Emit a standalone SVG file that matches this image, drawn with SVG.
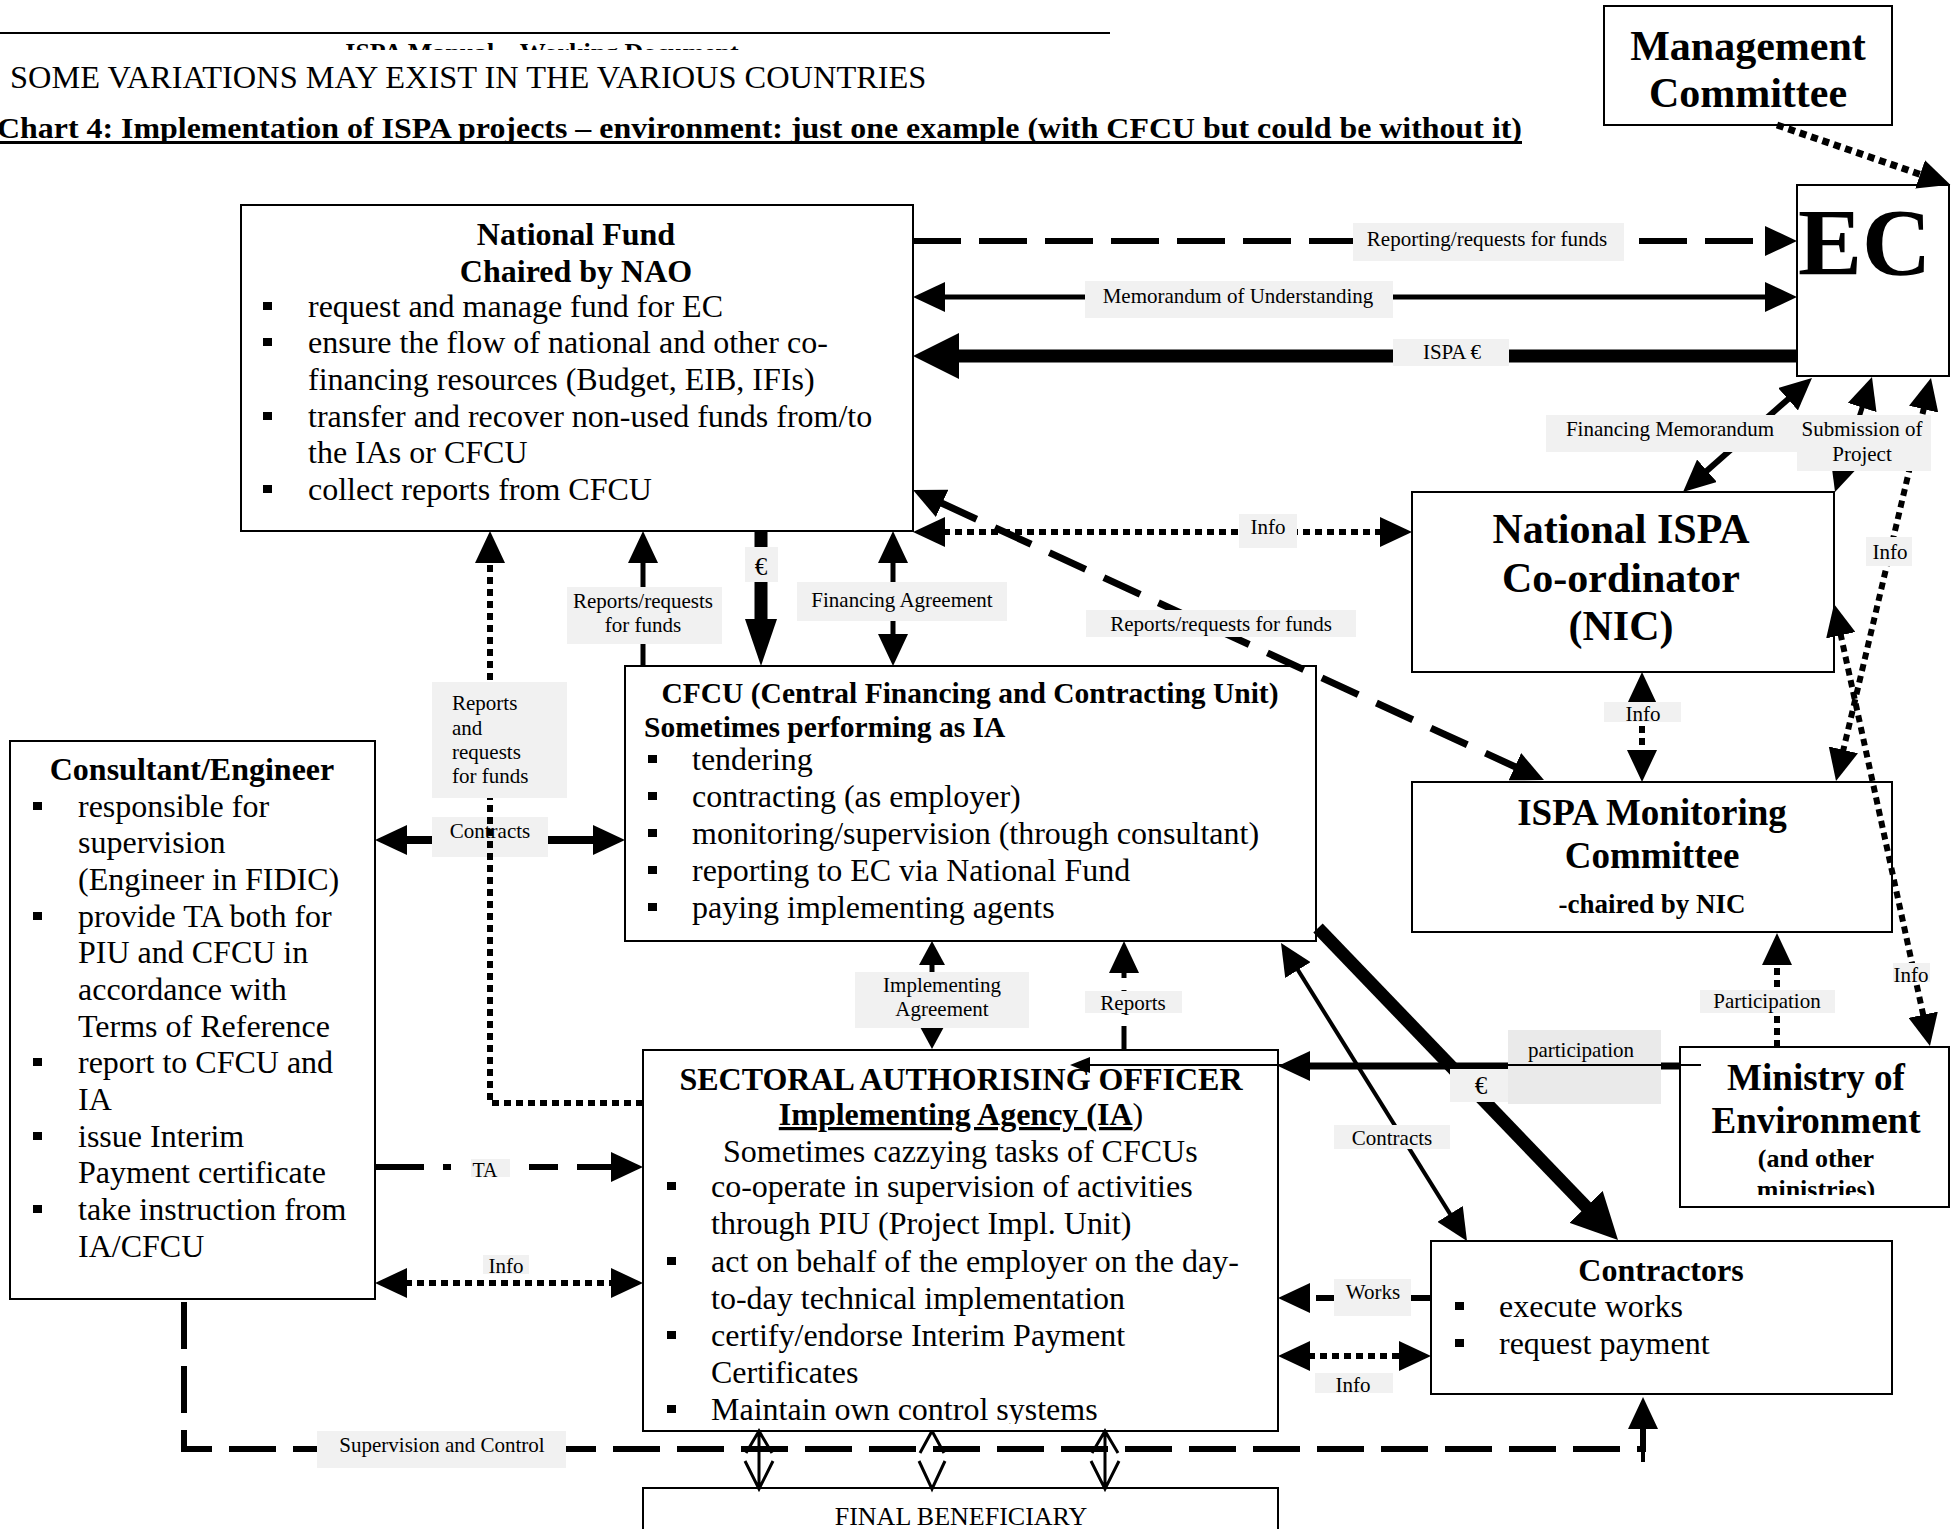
<svg xmlns="http://www.w3.org/2000/svg" width="1959" height="1529" viewBox="0 0 1959 1529">
<defs>
<style>
text{font-family:"Liberation Serif","Times New Roman",serif;fill:#000}
.b{font-weight:bold}
.c{text-anchor:middle}
.box{fill:#fff;stroke:#000;stroke-width:2}
.lb{fill:#f1f1f1}
.lt{font-size:21px;text-anchor:middle}
.bt{font-size:32px}
.w{fill:none;stroke:#000}
.dot{stroke-dasharray:7 5}
.ho{fill:none;stroke:#000;stroke-width:3}
</style>
<marker id="a" markerUnits="userSpaceOnUse" markerWidth="33" markerHeight="30" refX="2" refY="15" orient="auto-start-reverse"><path d="M0,0L32,15L0,30z"/></marker>
<marker id="bg" markerUnits="userSpaceOnUse" markerWidth="47" markerHeight="46" refX="2" refY="23" orient="auto-start-reverse"><path d="M0,0L46,23L0,46z"/></marker>
<marker id="tl" markerUnits="userSpaceOnUse" markerWidth="48" markerHeight="32" refX="2" refY="16" orient="auto-start-reverse"><path d="M0,0L47,16L0,32z"/></marker>
<marker id="m" markerUnits="userSpaceOnUse" markerWidth="25" markerHeight="26" refX="2" refY="13" orient="auto-start-reverse"><path d="M0,0L24,13L0,26z"/></marker>
<marker id="s" markerUnits="userSpaceOnUse" markerWidth="21" markerHeight="16" refX="2" refY="8" orient="auto-start-reverse"><path d="M0,0L20,8L0,16z"/></marker>
<rect id="bu" width="9" height="8"/>
<clipPath id="hc"><rect x="0" y="34" width="1110" height="16"/></clipPath>
<clipPath id="mcl"><rect x="1681" y="1048" width="267" height="147"/></clipPath>
<clipPath id="scl"><rect x="644" y="1051" width="633" height="373"/></clipPath>
</defs>
<rect width="1959" height="1529" fill="#fff"/>

<g id="header">
<line x1="0" y1="33" x2="1110" y2="33" stroke="#000" stroke-width="2"/>
<text x="542" y="61" class="b c" font-size="26" clip-path="url(#hc)">ISPA Manual – Working Document</text>
<text x="10" y="88" font-size="32.4">SOME VARIATIONS MAY EXIST IN THE VARIOUS COUNTRIES</text>
<text x="-3" y="138" class="b" font-size="29" textLength="1525" lengthAdjust="spacingAndGlyphs">Chart 4: Implementation of ISPA projects – environment: just one example (with CFCU but could be without it)</text>
<rect x="-3" y="141" width="1525" height="3"/>
</g>

<g id="management-committee">
<rect class="box" x="1604" y="6" width="288" height="119"/>
<text class="b c" font-size="42"><tspan x="1748" y="60">Management</tspan><tspan x="1748" y="107">Committee</tspan></text>
</g>

<g id="ec">
<rect class="box" x="1797" y="185" width="152" height="191"/>
<text x="1798" y="275" class="b" font-size="96">EC</text>
</g>

<g id="national-fund">
<rect class="box" x="241" y="205" width="672" height="326"/>
<text class="b c bt"><tspan x="576" y="245">National Fund</tspan><tspan x="576" y="282">Chaired by NAO</tspan></text>
<use href="#bu" x="263" y="302"/><use href="#bu" x="263" y="338"/><use href="#bu" x="263" y="412"/><use href="#bu" x="263" y="485"/>
<text class="bt"><tspan x="308" y="317">request and manage fund for EC</tspan><tspan x="308" y="353">ensure the flow of national and other co-</tspan><tspan x="308" y="390">financing resources (Budget, EIB, IFIs)</tspan><tspan x="308" y="427">transfer and recover non-used funds from/to</tspan><tspan x="308" y="463">the IAs or CFCU</tspan><tspan x="308" y="500">collect reports from CFCU</tspan></text>
</g>

<g id="consultant">
<rect class="box" x="10" y="741" width="365" height="558"/>
<text x="192" y="780" class="b c bt">Consultant/Engineer</text>
<use href="#bu" x="33" y="802"/><use href="#bu" x="33" y="912"/><use href="#bu" x="33" y="1058"/><use href="#bu" x="33" y="1132"/><use href="#bu" x="33" y="1205"/>
<text class="bt"><tspan x="78" y="817">responsible for</tspan><tspan x="78" y="853">supervision</tspan><tspan x="78" y="890">(Engineer in FIDIC)</tspan><tspan x="78" y="927">provide TA both for</tspan><tspan x="78" y="963">PIU and CFCU in</tspan><tspan x="78" y="1000">accordance with</tspan><tspan x="78" y="1037">Terms of Reference</tspan><tspan x="78" y="1073">report to CFCU and</tspan><tspan x="78" y="1110">IA</tspan><tspan x="78" y="1147">issue Interim</tspan><tspan x="78" y="1183">Payment certificate</tspan><tspan x="78" y="1220">take instruction from</tspan><tspan x="78" y="1257">IA/CFCU</tspan></text>
</g>

<g id="cfcu">
<rect class="box" x="625" y="666" width="691" height="275"/>
<text x="970" y="703" class="b c" font-size="29.5">CFCU (Central Financing and Contracting Unit)</text>
<text x="644" y="737" class="b" font-size="29.5">Sometimes performing as IA</text>
<use href="#bu" x="648" y="755"/><use href="#bu" x="648" y="792"/><use href="#bu" x="648" y="829"/><use href="#bu" x="648" y="866"/><use href="#bu" x="648" y="903"/>
<text class="bt"><tspan x="692" y="770">tendering</tspan><tspan x="692" y="807">contracting (as employer)</tspan><tspan x="692" y="844">monitoring/supervision (through consultant)</tspan><tspan x="692" y="881">reporting to EC via National Fund</tspan><tspan x="692" y="918">paying implementing agents</tspan></text>
</g>

<g id="sao">
<rect class="box" x="643" y="1050" width="635" height="381"/>
<g clip-path="url(#scl)">
<text x="961" y="1090" class="b c bt">SECTORAL AUTHORISING OFFICER</text>
<text x="961" y="1125" class="b c bt"><tspan text-decoration="underline">Implementing Agency (IA</tspan><tspan font-weight="normal">)</tspan></text>
<text x="723" y="1162" class="bt">Sometimes cazzying tasks of CFCUs</text>
<use href="#bu" x="667" y="1182"/><use href="#bu" x="667" y="1257"/><use href="#bu" x="667" y="1331"/><use href="#bu" x="667" y="1405"/>
<text class="bt"><tspan x="711" y="1197">co-operate in supervision of activities</tspan><tspan x="711" y="1234">through PIU (Project Impl. Unit)</tspan><tspan x="711" y="1272">act on behalf of the employer on the day-</tspan><tspan x="711" y="1309">to-day technical implementation</tspan><tspan x="711" y="1346">certify/endorse Interim Payment</tspan><tspan x="711" y="1383">Certificates</tspan><tspan x="711" y="1420">Maintain own control systems</tspan></text>
</g>
</g>

<g id="final-beneficiary">
<rect class="box" x="643" y="1488" width="635" height="60"/>
<text x="961" y="1525" class="c" font-size="26">FINAL BENEFICIARY</text>
</g>

<g id="nic">
<rect class="box" x="1412" y="492" width="422" height="180"/>
<text class="b c" font-size="42"><tspan x="1621" y="543">National ISPA</tspan><tspan x="1621" y="592">Co-ordinator</tspan><tspan x="1621" y="640">(NIC)</tspan></text>
</g>

<g id="ispa-monitoring-committee">
<rect class="box" x="1412" y="782" width="480" height="150"/>
<text class="b c" font-size="37"><tspan x="1652" y="825">ISPA Monitoring</tspan><tspan x="1652" y="868">Committee</tspan></text>
<text x="1652" y="913" class="b c" font-size="27">-chaired by NIC</text>
</g>

<g id="ministry">
<rect class="box" x="1680" y="1047" width="269" height="160"/>
<g clip-path="url(#mcl)">
<text class="b c" font-size="37"><tspan x="1816" y="1090">Ministry of</tspan><tspan x="1816" y="1133">Environment</tspan></text>
<text class="b c" font-size="26"><tspan x="1816" y="1167">(and other</tspan><tspan x="1816" y="1198">ministries)</tspan></text>
</g>
</g>

<g id="contractors">
<rect class="box" x="1431" y="1241" width="461" height="153"/>
<text x="1661" y="1281" class="b c bt">Contractors</text>
<use href="#bu" x="1455" y="1302"/><use href="#bu" x="1455" y="1339"/>
<text class="bt"><tspan x="1499" y="1317">execute works</tspan><tspan x="1499" y="1354">request payment</tspan></text>
</g>

<g id="connectors">
<path class="w dot" stroke-width="7" d="M1777,125 L1922,175" marker-end="url(#a)"/>
<path class="w" stroke-width="6" stroke-dasharray="48 18" d="M913,241 H1767" marker-end="url(#a)"/>
<path class="w" stroke-width="5" d="M943,297 H1767" marker-start="url(#a)" marker-end="url(#a)"/>
<path class="w" stroke-width="13" d="M1797,356 H957" marker-end="url(#bg)"/>
<path class="w" stroke-width="6" d="M1705.5,472.1 L1789.5,397.9" marker-start="url(#a)" marker-end="url(#a)"/>
<path class="w" stroke-width="5" d="M1844.2,463.4 L1862.8,405.6" marker-start="url(#a)" marker-end="url(#a)"/>
<path class="w dot" stroke-width="6" d="M1924.1,407.2 L1842.9,751.8" marker-start="url(#a)" marker-end="url(#a)"/>
<path class="w dot" stroke-width="6" d="M1840.4,633.3 L1923.6,1016.7" marker-start="url(#a)" marker-end="url(#a)"/>
<path class="w dot" stroke-width="6" d="M1642,702 V752" marker-start="url(#a)" marker-end="url(#a)"/>
<path class="w dot" stroke-width="6" d="M1777,1047 V963" marker-end="url(#a)"/>
<path class="w dot" stroke-width="6" d="M943,532 H1382" marker-start="url(#a)" marker-end="url(#a)"/>
<path class="w" stroke-width="7" stroke-dasharray="40 20" d="M940.3,502.5 L1516.7,767.5" marker-start="url(#a)" marker-end="url(#a)"/>
<path class="w" stroke-width="5" d="M643,666 V561" marker-end="url(#a)"/>
<path class="w" stroke-width="13" d="M761,531 V621" marker-end="url(#tl)"/>
<path class="w" stroke-width="5" d="M893,561 V636" marker-start="url(#a)" marker-end="url(#a)"/>
<path class="w" stroke-width="8" d="M405,840 H595" marker-start="url(#a)" marker-end="url(#a)"/>
<rect class="lb" x="432" y="817" width="116" height="40"/>
<text class="lt" x="490" y="838">Contracts</text>
<path class="w dot" stroke-width="6" d="M643,1103 H490 V561" marker-end="url(#a)"/>
<rect class="lb" x="432" y="682" width="135" height="116"/>
<text font-size="21"><tspan x="452" y="710">Reports</tspan><tspan x="452" y="735">and</tspan><tspan x="452" y="759">requests</tspan><tspan x="452" y="783">for  funds</tspan></text>
<path class="w" stroke-width="5" d="M932,963 V1027" marker-start="url(#m)" marker-end="url(#m)"/>
<path class="w" stroke-width="5" stroke-dasharray="24 12" d="M1124,1050 V971" marker-end="url(#a)"/>
<path class="w" stroke-width="13" d="M1318,928 L1587.5,1208.3" marker-end="url(#bg)"/>
<path class="w" stroke-width="4" d="M1296.9,968.4 L1451.1,1215.6" marker-start="url(#a)" marker-end="url(#a)"/>
<path class="w" stroke-width="7" d="M1680,1066 H1308" marker-end="url(#a)"/>
<path class="w" stroke-width="6" d="M1431,1298 H1411 M1334,1298 H1316 M1310,1298 H1308" marker-end="url(#a)"/>
<path class="w dot" stroke-width="6" d="M1308,1356 H1401" marker-start="url(#a)" marker-end="url(#a)"/>
<path class="w" stroke-width="6" d="M375,1167 H424 M443,1167 H451 M529,1167 H558 M577,1167 H613" marker-end="url(#a)"/>
<path class="w dot" stroke-width="6" d="M405,1283 H613" marker-start="url(#a)" marker-end="url(#a)"/>
<path class="w" stroke-width="6" stroke-dasharray="47 17" d="M184,1302 V1449 H1643 V1427" marker-end="url(#a)"/>
<path class="w" stroke-width="4" d="M1643,1433 V1462"/>
<path class="ho" d="M759,1431 V1489 M746,1453 L759,1431 L772,1453 M745,1461 L759,1489 L773,1461"/>
<path class="ho" d="M932,1431 L920,1453 M932,1431 L944,1453 M919,1461 L932,1489 L945,1461"/>
<path class="ho" d="M1105,1431 V1489 M1092,1453 L1105,1431 L1118,1453 M1091,1461 L1105,1489 L1119,1461"/>
<rect class="lb" x="1353" y="223" width="271" height="38"/>
<text class="lt" x="1487" y="246">Reporting/requests for funds</text>
<rect class="lb" x="1085" y="281" width="308" height="37"/>
<text class="lt" x="1238" y="303">Memorandum of Understanding</text>
<rect class="lb" x="1393" y="339" width="116" height="27"/>
<text class="lt" x="1452" y="359">ISPA €</text>
<rect class="lb" x="1546" y="415" width="251" height="37"/>
<text class="lt" x="1670" y="436">Financing Memorandum</text>
<rect class="lb" x="1797" y="415" width="134" height="56"/>
<text class="lt"><tspan x="1862" y="436">Submission of</tspan><tspan x="1862" y="461">Project</tspan></text>
<rect class="lb" x="1239" y="514" width="58" height="34"/>
<text class="lt" x="1268" y="534">Info</text>
<rect class="lb" x="1866" y="537" width="46" height="29"/>
<text class="lt" x="1890" y="559">Info</text>
<rect class="lb" x="1086" y="610" width="270" height="27"/>
<text class="lt" x="1221" y="631">Reports/requests for funds</text>
<rect class="lb" x="567" y="587" width="155" height="57"/>
<text class="lt"><tspan x="643" y="608">Reports/requests</tspan><tspan x="643" y="632">for funds</tspan></text>
<rect class="lb" x="745" y="547" width="33" height="35"/>
<text x="761" y="575" class="c" font-size="25">€</text>
<rect class="lb" x="797" y="582" width="210" height="39"/>
<text class="lt" x="902" y="607">Financing Agreement</text>
<rect class="lb" x="1604" y="702" width="77" height="20"/>
<text class="lt" x="1643" y="721">Info</text>
<rect class="lb" x="1700" y="990" width="135" height="23"/>
<text class="lt" x="1767" y="1008">Participation</text>
<rect class="lb" x="1893" y="963" width="37" height="19"/>
<text class="lt" x="1911" y="982">Info</text>
<rect class="lb" x="855" y="972" width="174" height="56"/>
<text class="lt"><tspan x="942" y="992">Implementing</tspan><tspan x="942" y="1016">Agreement</tspan></text>
<rect class="lb" x="1085" y="991" width="97" height="22"/>
<text class="lt" x="1133" y="1010">Reports</text>
<rect x="1508" y="1030" width="153" height="74" fill="#eaeaea"/>
<text class="lt" x="1581" y="1057">participation</text>
<rect class="lb" x="1450" y="1069" width="58" height="33"/>
<text x="1481" y="1094" class="c" font-size="25">€</text>
<path class="w" stroke-width="2" d="M1701,1065 H1088" marker-end="url(#s)"/>
<rect class="lb" x="1334" y="1125" width="116" height="24"/>
<text class="lt" x="1392" y="1145">Contracts</text>
<rect class="lb" x="1334" y="1279" width="77" height="37"/>
<text class="lt" x="1373" y="1299">Works</text>
<rect class="lb" x="1315" y="1373" width="78" height="20"/>
<text class="lt" x="1353" y="1392">Info</text>
<rect class="lb" x="471" y="1159" width="39" height="18"/>
<text x="485" y="1177" class="c" font-size="20">TA</text>
<rect class="lb" x="483" y="1255" width="46" height="19"/>
<text class="lt" x="506" y="1273">Info</text>
<rect class="lb" x="317" y="1431" width="249" height="37"/>
<text class="lt" x="442" y="1452">Supervision and Control</text>
</g>
</svg>
